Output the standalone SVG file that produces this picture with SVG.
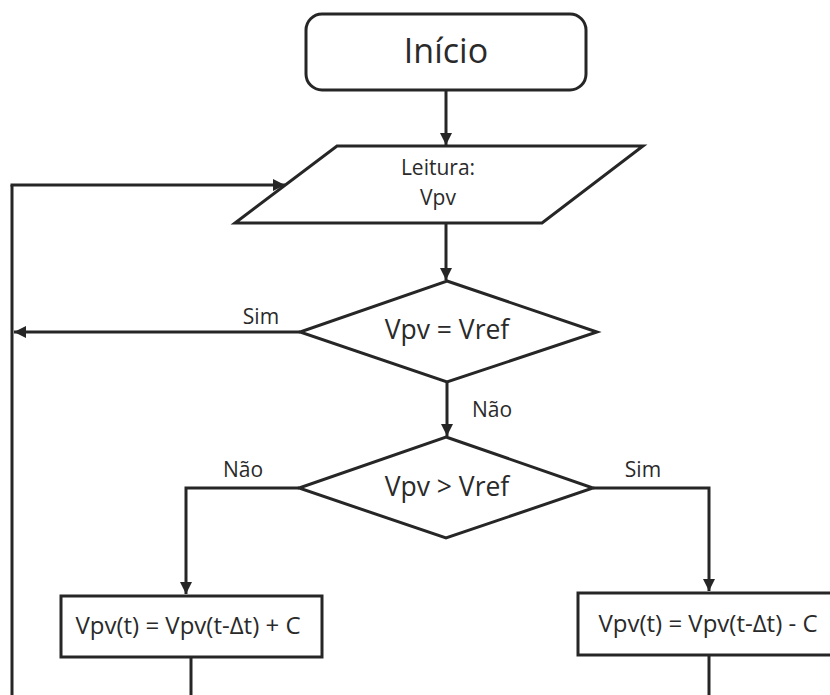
<svg xmlns="http://www.w3.org/2000/svg" width="830" height="695" viewBox="0 0 830 695">
<defs>
<marker id="ah" viewBox="0 0 12 12" refX="12" refY="6" markerWidth="12" markerHeight="12" markerUnits="userSpaceOnUse" orient="auto">
<path d="M0,0 L12,6 L0,12 Z" fill="#262626"/>
</marker>
<style>
.s{fill:#fff;stroke:#262626;stroke-width:3}
.c{fill:none;stroke:#262626;stroke-width:3}
.ca{fill:none;stroke:#262626;stroke-width:3;marker-end:url(#ah)}
text{font-family:"Open Sans","DejaVu Sans",sans-serif;fill:#2a2a2a}
.m{text-anchor:middle}
</style>
</defs>
<rect width="830" height="695" fill="#fff"/>
<g id="connectors">
<path class="ca" d="M446,90 V145"/>
<path class="ca" d="M446,223 V280"/>
<path class="ca" d="M300,332 H14"/>
<path class="c" d="M12,695 V185"/>
<path class="ca" d="M10.5,185 H285"/>
<path class="ca" d="M447,382 V436"/>
<path class="ca" d="M299,488 H186 V594"/>
<path class="ca" d="M593,488 H709 V591"/>
<path class="c" d="M191,657 V695"/>
<path class="c" d="M709,655 V695"/>
</g>
<g id="start">
<rect class="s" x="306" y="14" width="280" height="76" rx="16"/>
<text class="m" x="446" y="63" font-size="34">Início</text>
</g>
<g id="read">
<path class="s" d="M337,146 H643 L542,223 H235 Z"/>
<text class="m" x="438" y="175" font-size="21">Leitura:</text>
<text class="m" x="438" y="205" font-size="21">Vpv</text>
</g>
<g id="dec1">
<path class="s" d="M447,281 L597,332 L447,382 L300,332 Z"/>
<text class="m" x="447" y="339" font-size="26.5">Vpv = Vref</text>
</g>
<g id="dec2">
<path class="s" d="M446,437 L593,488 L446,538 L299,488 Z"/>
<text class="m" x="447" y="496" font-size="26.5">Vpv &gt; Vref</text>
</g>
<g id="inc">
<rect class="s" x="61" y="596" width="261" height="61"/>
<text class="m" x="188" y="634" font-size="24">Vpv(t) = Vpv(t-Δt) + C</text>
</g>
<g id="dec">
<rect class="s" x="578" y="593" width="270" height="62"/>
<text class="m" x="708" y="632" font-size="24">Vpv(t) = Vpv(t-Δt) - C</text>
</g>
<g id="labels">
<text class="m" x="261" y="324" font-size="21">Sim</text>
<text class="m" x="492" y="417" font-size="21">Não</text>
<text class="m" x="243" y="477" font-size="21">Não</text>
<text class="m" x="643" y="477" font-size="21">Sim</text>
</g>
</svg>
